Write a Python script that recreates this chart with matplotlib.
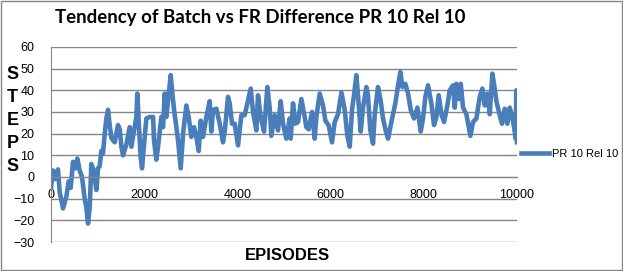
import matplotlib.pyplot as plt
from matplotlib.patches import Rectangle

# values (episode, steps)
episodes = [0, 43, 93, 150, 186, 258, 329, 379, 422, 472, 522, 565, 615, 665,
            722, 758, 794, 830, 866, 916, 973, 1009, 1044, 1080, 1116, 1152,
            1188, 1223, 1259, 1295, 1366, 1438, 1474, 1510, 1545, 1617, 1688,
            1724, 1795, 1831, 1852, 1888, 1924, 1953, 1996, 2046, 2117, 2189,
            2210, 2260, 2296, 2368, 2404, 2439, 2475, 2511, 2568, 2604, 2640,
            2690, 2725, 2783, 2833, 2904, 2954, 3011, 3069, 3119, 3169, 3212,
            3262, 3333, 3405, 3440, 3477, 3548, 3620, 3691, 3727, 3798, 3834,
            3884, 3941, 4013, 4084, 4156, 4213, 4285, 4335, 4406, 4442, 4499,
            4571, 4642, 4692, 4728, 4800, 4871, 4928, 4979, 5050, 5122, 5143,
            5193, 5243, 5300, 5372, 5443, 5479, 5529, 5601, 5658, 5694, 5765,
            5837, 5887, 5959, 6030, 6088, 6159, 6231, 6302, 6359, 6410, 6459,
            6502, 6552, 6588, 6645, 6695, 6767, 6800, 6850, 6910, 6946, 7017,
            7075, 7125, 7175, 7232, 7303, 7389, 7447, 7497, 7540, 7604, 7662,
            7719, 7790, 7862, 7933, 7983, 8033, 8090, 8162, 8219, 8269, 8319,
            8376, 8434, 8505, 8556, 8627, 8663, 8698, 8749, 8792, 8842, 8913,
            8964, 8999, 9056, 9128, 9200, 9256, 9307, 9363, 9414, 9471, 9521,
            9557, 9629, 9678, 9736, 9793, 9843, 9893, 9936, 9972, 9985, 10000]
steps = [-5, 3, -1, 3.5, -7, -14.5, -9, -2, -5, 7, 4, 8.5, 3, 0,
         -10, -14, -21.5, -14, 6, 3, -6, 4, 5, 12, 11, 20,
         27, 31, 24, 18, 16, 24, 22, 14, 10, 15, 23,
         14, 23, 27.7, 38.5, 23, 9, 4, 15, 27, 27.7, 27.7,
         17, 8, 14, 27.7, 23, 38.5, 27.7, 35, 47, 38.5, 31,
         23, 17, 4, 20, 33, 27.7, 18.5, 23, 18.5, 12, 26,
         18.5, 27.7, 35, 21, 31, 31.5, 24.6, 16, 21, 37, 34,
         24.6, 24.6, 14.6, 28.5, 28.5, 34, 40.8, 30, 21.5, 37.7, 27.7,
         21, 41.5, 32, 19, 28.5, 21.5, 35, 24.6, 17.7, 27, 17.7,
         34, 24.6, 25.4, 36, 27.7, 23, 22, 30, 17.7, 27.7, 38.5,
         33, 26, 23.8, 16, 25.4, 29, 39, 31, 19, 14, 31,
         37.7, 47, 37.7, 21, 32, 41.5, 38, 22, 15.4, 29, 41.5,
         35, 27, 22, 17.7, 25.4, 34, 42.3, 48.5, 41.5, 43, 38.5,
         31, 27, 32, 21, 27, 37, 42.3, 34, 24, 27.7, 37.7,
         29, 25.4, 33, 40, 42.3, 32, 43, 36, 43, 32, 29,
         23, 19, 25.4, 27, 37, 40.8, 33, 38.5, 29, 47.7, 40.8,
         35, 28.5, 24.6, 31.5, 24.6, 32, 28.5, 23, 17.7, 40, 16]

series_name = 'PR 10 Rel 10'
y_ticks = list(range(-30, 61, 10))
x_ticks = list(range(0, 10001, 2000))

fig = plt.figure(figsize=(6.23, 2.71), dpi=100)
ax = fig.add_axes([0.0819, 0.107, 0.748, 0.7196])

ax.plot(episodes, steps, color='#4A7EBB', linewidth=3.3, label=series_name,
        solid_joinstyle='round')

ax.set_xlim(0, 10000)
ax.set_ylim(-30, 60)
ax.set_yticks(y_ticks)
ax.set_xticks(x_ticks)
ax.grid(True, axis='y', color='#868686', linewidth=1)
ax.set_axisbelow(True)

for s in ['top', 'right']:
    ax.spines[s].set_visible(False)
ax.spines['left'].set_color('#868686')
ax.spines['bottom'].set_position(('data', 0))
ax.spines['bottom'].set_color('#868686')

ax.tick_params(axis='y', length=0, pad=12, labelsize=9)
ax.tick_params(axis='x', length=0, pad=9, labelsize=9)
for lab in ax.get_xticklabels() + ax.get_yticklabels():
    lab.set_family('Liberation Sans')

fig.text(0.417, 0.935, 'Tendency of Batch vs FR Difference PR 10 Rel 10',
         ha='center', va='center', fontsize=13.4, fontweight='bold',
         family='Lato')
fig.text(0.02, 0.555, 'S\nT\nE\nP\nS', ha='center', va='center',
         fontsize=13, fontweight='bold', family='Liberation Sans',
         linespacing=1.45)
fig.text(0.461, 0.059, 'EPISODES', ha='center', va='center',
         fontsize=12, fontweight='bold', family='Liberation Sans')

fig.legend(loc='center left', bbox_to_anchor=(0.837, 1 - 154 / 271),
           frameon=False, handlelength=2.5, handletextpad=0.25,
           borderpad=0, borderaxespad=0, prop={'family': 'Liberation Sans', 'size': 8})

fig.patches.append(Rectangle((0.001, 0.002), 0.997, 0.995, transform=fig.transFigure,
                             fill=False, edgecolor='#868686', linewidth=1))

fig.savefig('out.png', dpi=100)
